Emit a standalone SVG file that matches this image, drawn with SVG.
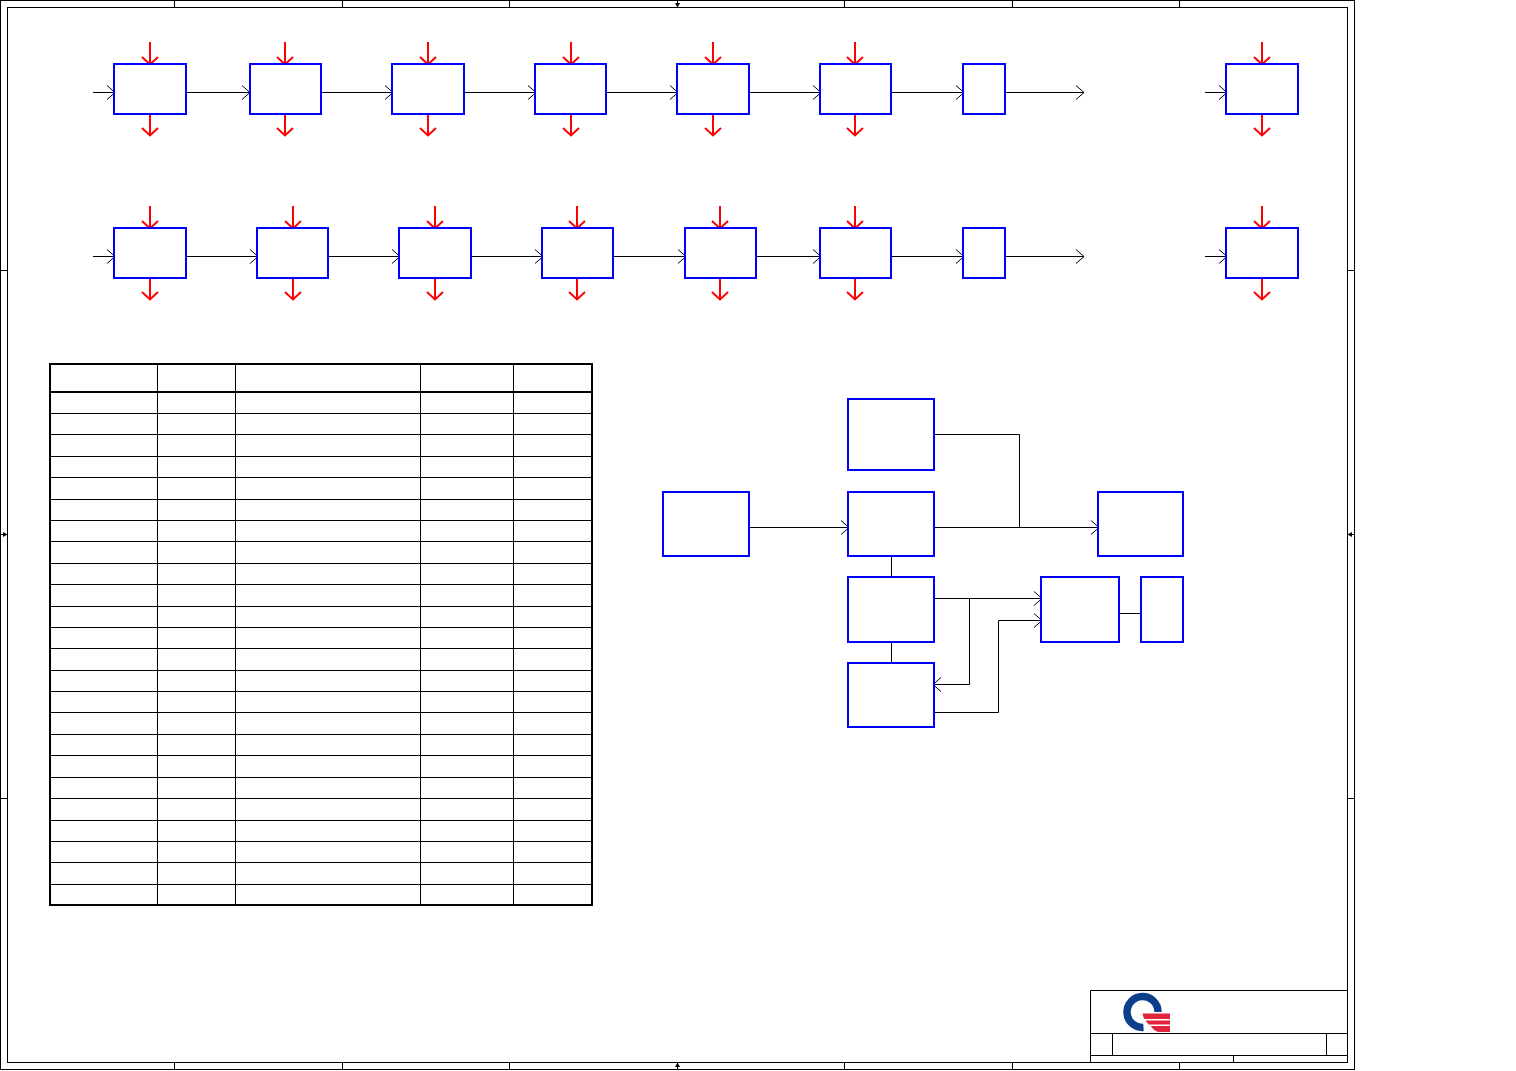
<svg xmlns="http://www.w3.org/2000/svg" width="1516" height="1071" viewBox="0 0 1516 1071">
<style>
.b{fill:#fff;stroke:#00f;stroke-width:2}
.k{fill:none;stroke:#000;stroke-width:1}
.t{fill:none;stroke:#000;stroke-width:2}
.a{marker-end:url(#ah)}
.r{fill:none;stroke:#f00;stroke-width:2;marker-end:url(#rh)}
.m{fill:#000;stroke:none}
</style>
<defs>
<marker id="ah" markerUnits="userSpaceOnUse" markerWidth="20" markerHeight="20" refX="10" refY="10" orient="auto" overflow="visible"><path d="M2 3L10 10L2 17" fill="none" stroke="#000" stroke-width="1"/></marker>
<marker id="rh" markerUnits="userSpaceOnUse" markerWidth="24" markerHeight="24" refX="12" refY="12" orient="auto" overflow="visible"><path d="M4.500 4L12 12L4.500 20" fill="none" stroke="#f00" stroke-width="2"/></marker>
</defs>
<rect width="1516" height="1071" fill="#fff"/>
<g id="frame">
<rect class="k" x="0.5" y="0.5" width="1354" height="1069"/>
<rect class="k" x="7.5" y="7.5" width="1340" height="1055"/>
<path class="k" d="M174.500 0V7M342.500 0V7M509.500 0V7M677.500 0V7M844.500 0V7M1012.500 0V7M1179.500 0V7M174.500 1063V1070M342.500 1063V1070M509.500 1063V1070M677.500 1063V1070M844.500 1063V1070M1012.500 1063V1070M1179.500 1063V1070M0 270.500H7M0 534.500H7M0 798.500H7M1348 270.500H1355M1348 534.500H1355M1348 798.500H1355"/>
<path class="m" d="M675 3H680L677.500 7.500ZM675 1067H680L677.500 1062.500ZM3 532L3 537L7.500 534.500ZM1352 532L1352 537L1347.500 534.500Z"/>
</g>
<g id="connectors">
<path class="k a" d="M93 92.500H115"/>
<path class="k a" d="M186 92.500H250"/>
<path class="k a" d="M321 92.500H393"/>
<path class="k a" d="M464 92.500H536"/>
<path class="k a" d="M606 92.500H678"/>
<path class="k a" d="M749 92.500H821"/>
<path class="k a" d="M891 92.500H964"/>
<path class="k a" d="M1005 92.500H1084"/>
<path class="k a" d="M1205 92.500H1227"/>
<path class="k a" d="M93 256.500H115"/>
<path class="k a" d="M186 256.500H258"/>
<path class="k a" d="M328 256.500H400"/>
<path class="k a" d="M471 256.500H543"/>
<path class="k a" d="M613 256.500H686"/>
<path class="k a" d="M756 256.500H821"/>
<path class="k a" d="M891 256.500H964"/>
<path class="k a" d="M1005 256.500H1084"/>
<path class="k a" d="M1205 256.500H1227"/>
<path class="r" d="M150 42V64.500"/><path class="r" d="M150 114V135.500"/>
<path class="r" d="M285 42V64.500"/><path class="r" d="M285 114V135.500"/>
<path class="r" d="M428 42V64.500"/><path class="r" d="M428 114V135.500"/>
<path class="r" d="M571 42V64.500"/><path class="r" d="M571 114V135.500"/>
<path class="r" d="M713 42V64.500"/><path class="r" d="M713 114V135.500"/>
<path class="r" d="M855 42V64.500"/><path class="r" d="M855 114V135.500"/>
<path class="r" d="M1262 42V64.500"/><path class="r" d="M1262 114V135.500"/>
<path class="r" d="M150 206V228.500"/><path class="r" d="M150 278V299.500"/>
<path class="r" d="M293 206V228.500"/><path class="r" d="M293 278V299.500"/>
<path class="r" d="M435 206V228.500"/><path class="r" d="M435 278V299.500"/>
<path class="r" d="M577 206V228.500"/><path class="r" d="M577 278V299.500"/>
<path class="r" d="M720 206V228.500"/><path class="r" d="M720 278V299.500"/>
<path class="r" d="M855 206V228.500"/><path class="r" d="M855 278V299.500"/>
<path class="r" d="M1262 206V228.500"/><path class="r" d="M1262 278V299.500"/>
<path class="k a" d="M749 527.500H849"/>
<path class="k a" d="M934 527.500H1099"/>
<path class="k" d="M934 434.500H1019.500V527.500"/>
<path class="k" d="M891.500 556V577M891.500 642V663M1119 613.500H1141"/>
<path class="k a" d="M934 598.500H1042"/>
<path class="k a" d="M969.500 598.500V684.500H933"/>
<path class="k a" d="M934 712.500H998.500V620.500H1042"/>
</g>
<g id="n1"><rect class="b" x="114" y="64" width="72" height="50"/></g>
<g id="n2"><rect class="b" x="250" y="64" width="71" height="50"/></g>
<g id="n3"><rect class="b" x="392" y="64" width="72" height="50"/></g>
<g id="n4"><rect class="b" x="535" y="64" width="71" height="50"/></g>
<g id="n5"><rect class="b" x="677" y="64" width="72" height="50"/></g>
<g id="n6"><rect class="b" x="820" y="64" width="71" height="50"/></g>
<g id="n7"><rect class="b" x="963" y="64" width="42" height="50"/></g>
<g id="n8"><rect class="b" x="1226" y="64" width="72" height="50"/></g>
<g id="n9"><rect class="b" x="114" y="228" width="72" height="50"/></g>
<g id="n10"><rect class="b" x="257" y="228" width="71" height="50"/></g>
<g id="n11"><rect class="b" x="399" y="228" width="72" height="50"/></g>
<g id="n12"><rect class="b" x="542" y="228" width="71" height="50"/></g>
<g id="n13"><rect class="b" x="685" y="228" width="71" height="50"/></g>
<g id="n14"><rect class="b" x="820" y="228" width="71" height="50"/></g>
<g id="n15"><rect class="b" x="963" y="228" width="42" height="50"/></g>
<g id="n16"><rect class="b" x="1226" y="228" width="72" height="50"/></g>
<g id="n17"><rect class="b" x="848" y="399" width="86" height="71"/></g>
<g id="n18"><rect class="b" x="663" y="492" width="86" height="64"/></g>
<g id="n19"><rect class="b" x="848" y="492" width="86" height="64"/></g>
<g id="n20"><rect class="b" x="1098" y="492" width="85" height="64"/></g>
<g id="n21"><rect class="b" x="848" y="577" width="86" height="65"/></g>
<g id="n22"><rect class="b" x="1041" y="577" width="78" height="65"/></g>
<g id="n23"><rect class="b" x="1141" y="577" width="42" height="65"/></g>
<g id="n24"><rect class="b" x="848" y="663" width="86" height="64"/></g>
<g id="table">
<rect class="t" x="50" y="364" width="542" height="541"/>
<path class="t" d="M50 392H592"/>
<path class="k" d="M157.500 364V905M235.500 364V905M420.500 364V905M513.500 364V905"/>
<path class="k" d="M50 413.500H592M50 434.500H592M50 456.500H592M50 477.500H592M50 499.500H592M50 520.500H592M50 541.500H592M50 563.500H592M50 584.500H592M50 606.500H592M50 627.500H592M50 648.500H592M50 670.500H592M50 691.500H592M50 712.500H592M50 734.500H592M50 755.500H592M50 777.500H592M50 798.500H592M50 820.500H592M50 841.500H592M50 862.500H592M50 884.500H592"/>
</g>
<g id="titleblock">
<path class="k" d="M1347 990.500H1090.500V1062M1091 1033.500H1347M1091 1055.500H1347M1112.500 1033.500V1055.500M1326.500 1033.500V1055.500M1233.500 1055.500V1062"/>
<path d="M1158 1012A15.500 15.500 0 1 0 1143.500 1027.500" fill="none" stroke="#0b3f8c" stroke-width="7.500"/>
<path fill="#e0243c" d="M1142.500 1013.500H1170V1019H1144ZM1145.500 1020.500H1170V1024.500H1148.500ZM1150.500 1026H1170V1032H1158Q1153 1030 1150.500 1026Z"/>
</g>
</svg>
